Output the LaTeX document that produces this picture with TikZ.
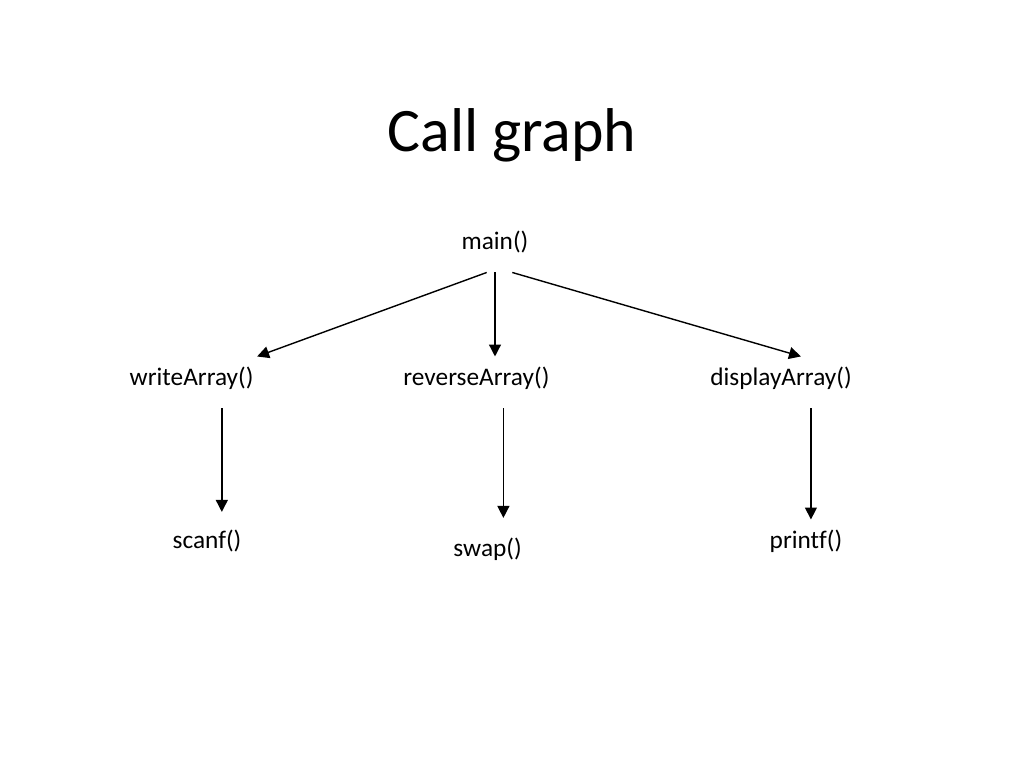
\documentclass[tikz,border=0pt]{standalone}
\usepackage{fontspec}
\setmainfont{Carlito}[Ligatures=CommonOff]
\usetikzlibrary{arrows.meta}

\tikzstyle{heading} = [anchor=base,font=\fontsize{44}{50}\selectfont]
\tikzstyle{func} = [anchor=base,font=\fontsize{18}{21}\selectfont,text height=12pt,text depth=7pt,inner ysep=9pt,inner xsep=2pt,outer sep=0pt]
\tikzstyle{call} = [line width=1pt,-{Triangle[length=8.5pt,width=8.5pt]}]

\begin{document}
\begin{tikzpicture}
		\useasboundingbox (0,0) rectangle (25.6,19.2);
		\node[heading] (title) at (12.8,15.4) {Call graph};
		\node[func] (main) at (12.375,12.95) {main()};
		\node[func] (write) at (4.79,9.55) {writeArray()};
		\node[func] (rev) at (11.91,9.55) {reverseArray()};
		\node[func] (disp) at (19.525,9.55) {displayArray()};
		\node[func] (scan) at (5.175,5.475) {scanf()};
		\node[func] (swap) at (12.19,5.275) {swap()};
		\node[func] (print) at (20.15,5.475) {printf()};
		\draw[call] ([xshift=-5.9pt]main.south) -- ([xshift=46.6pt]write.north);
		\draw[call] (main.south) -- (main.south |- rev.north);
		\draw[call] ([xshift=12.3pt]main.south) -- ([xshift=14.2pt]disp.north);
		\draw[call,shorten >=5.4pt] ([xshift=21.5pt]write.south) -- ([xshift=21.5pt]write.south |- scan.north);
		\draw[call,shorten >=6.8pt] ([xshift=19.2pt]rev.south) -- ([xshift=19.2pt]rev.south |- swap.north);
		\draw[call] ([xshift=21.3pt]disp.south) -- ([xshift=21.3pt]disp.south |- print.north);
		\end{tikzpicture}
\end{document}
